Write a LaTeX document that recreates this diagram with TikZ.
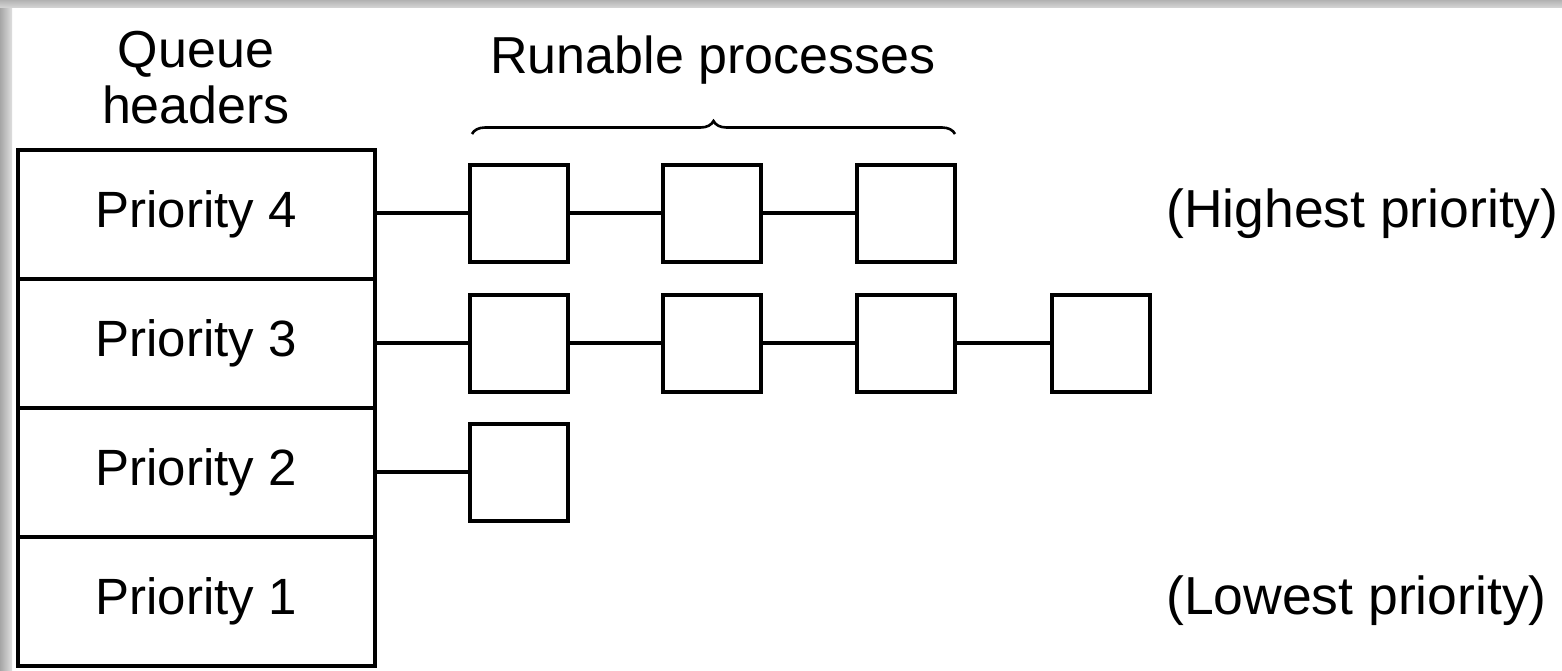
\documentclass[tikz,border=0pt]{standalone}
\usepackage{fontspec}
\setmainfont{Liberation Sans}
\usetikzlibrary{decorations.pathreplacing}
\begin{document}
\begin{tikzpicture}[x=1pt,y=-1pt,
  lbl/.style={font=\fontsize{52}{56}\selectfont, inner sep=0pt},
  side/.style={font=\fontsize{53.5}{58}\selectfont, inner sep=0pt},
  hdr/.style={draw, line width=4pt, minimum width=357pt, minimum height=129pt, inner sep=0pt, font=\fontsize{51}{56}\selectfont},
  proc/.style={draw, line width=4pt, minimum width=98pt, minimum height=97pt, inner sep=0pt},
  link/.style={line width=4pt}]
\useasboundingbox (0,0) rectangle (1562,670);
\fill[white] (0,0) rectangle (1562,670);
% screenshot shadow frame
\shade[left color=gray!70, right color=gray!25] (0,0) rectangle (12,670);
\shade[top color=gray!60, bottom color=gray!35] (0,0) rectangle (1562,7);
% headers
\node[lbl, align=center] (qh) at (196,78) {Queue\\headers};
\node[hdr] (p4) at (196,214) {Priority 4};
\node[hdr] (p3) at (196,343) {Priority 3};
\node[hdr] (p2) at (196,472) {Priority 2};
\node[hdr] (p1) at (196,601) {Priority 1};
% processes
\node[proc] (a1) at (519,213) {};
\node[proc] (a2) at (712,213) {};
\node[proc] (a3) at (906,213) {};
\node[proc] (b1) at (519,343) {};
\node[proc] (b2) at (712,343) {};
\node[proc] (b3) at (906,343) {};
\node[proc] (b4) at (1101,343) {};
\node[proc] (c1) at (519,472) {};
% links
\draw[link] (p4.east |- a1) -- (a1.west);
\draw[link] (a1) -- (a2) (a2) -- (a3);
\draw[link] (p3.east |- b1) -- (b1.west);
\draw[link] (b1) -- (b2) (b2) -- (b3) (b3) -- (b4);
\draw[link] (p2.east |- c1) -- (c1.west);
% brace
\coordinate (bl) at (472,134);
\coordinate (br) at (955,134);
\draw[line width=2.6pt, decorate, decoration={brace, amplitude=13pt}] (bl) -- (br);
\node[lbl] (rp) at (713,60) {Runable processes};
\node[side, anchor=west] (hp) at (1166,214) {(Highest priority)};
\node[side, anchor=west] (lp) at (1166,601) {(Lowest priority)};
\end{tikzpicture}
\end{document}
